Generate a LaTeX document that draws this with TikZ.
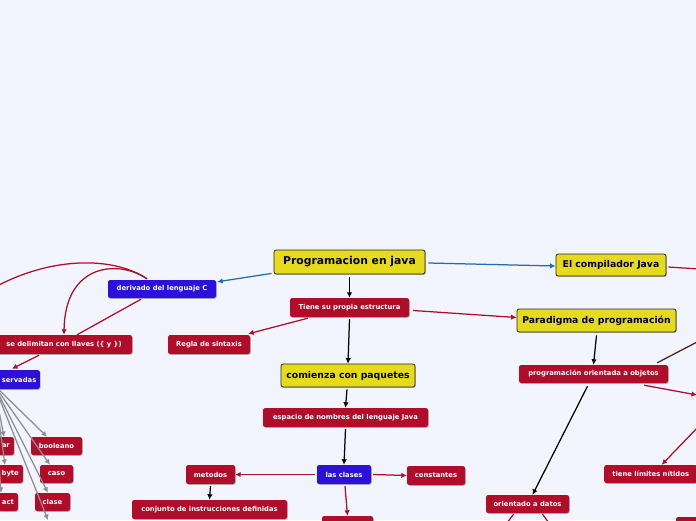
\documentclass[tikz,border=0pt]{standalone}
\usepackage{fontspec}
\setmainfont{DejaVu Sans}
\usetikzlibrary{arrows.meta,shadows,calc}
\definecolor{bg}{HTML}{F2F5FD}
\definecolor{ylw}{HTML}{E5DB1C}
\definecolor{rd}{HTML}{B10D2B}
\definecolor{bl}{HTML}{2D10D9}
\definecolor{lblue}{HTML}{1E6DB5}
\definecolor{gry}{HTML}{8E8E8E}
\definecolor{dbrown}{HTML}{4A1F22}
\tikzset{
  base/.style={rounded corners=2.2pt, align=center, inner sep=0pt,
    drop shadow={shadow xshift=0.8pt, shadow yshift=-0.8pt, fill=black, opacity=0.25}},
  mainbox/.style={base, draw=black!85, line width=0.8pt, fill=ylw, text=black,
    font=\bfseries\fontsize{9.3}{11}\selectfont},
  rootbox/.style={mainbox, font=\bfseries\fontsize{10.8}{12}\selectfont},
  subbox/.style={base, fill=rd, text=white, font=\bfseries\fontsize{6.8}{8}\selectfont, minimum height=19pt},
  bluebox/.style={subbox, fill=bl},
  conn/.style={line width=1.25pt, -{Latex[length=5.5pt,width=5.5pt]}},
  blk/.style={conn, draw=black},
  redc/.style={conn, draw=rd},
  bluec/.style={conn, draw=lblue},
  greyc/.style={conn, draw=gry},
  plainred/.style={line width=1.25pt, draw=rd},
}
\begin{document}
\begin{tikzpicture}[x=1pt,y=-1pt]
\fill[bg] (0,0) rectangle (696,520);
\useasboundingbox (0,0) rectangle (696,520);
\clip (0,0) rectangle (696,520);

% off-canvas points
\coordinate (r1) at (697,395);
\coordinate (r2) at (699,426);
\coordinate (r3) at (699,341);
\coordinate (r4) at (699,269);
\coordinate (l1) at (-20,296);
\coordinate (o1) at (504,527);
\coordinate (o2) at (552,527);
\coordinate (svo) at (-6,385);
\coordinate (tar) at (4,437);
\coordinate (tbyte) at (5,465);
\coordinate (tact) at (1,493);
\coordinate (tbelow) at (48,520);

% nodes
\node[rootbox, minimum width=151pt, minimum height=24pt] (prog) at (349.5,262) {Programacion en java};
\node[mainbox, minimum width=110pt, minimum height=22pt] (comp) at (611,265) {El compilador Java};
\node[mainbox, minimum width=159pt, minimum height=23pt] (parad) at (596.5,320.5) {Paradigma de programación};
\node[mainbox, minimum width=134pt, minimum height=23pt] (com) at (348,375.5) {comienza con paquetes};

\node[bluebox, minimum width=108pt, minimum height=18pt] (deriv) at (162,289) {derivado del lenguaje C};
\node[subbox, minimum width=119pt] (tiene) at (349.5,307.5) {Tiene su propia estructura};
\node[subbox, minimum width=82pt] (regla) at (209,344.5) {Regla de sintaxis};
\node[subbox, minimum width=136pt] (llaves) at (64,344.5) {se delimitan con llaves (\{ y \})};
\node[bluebox, anchor=east, text width=50pt, align=right, inner xsep=3.5pt] (serv) at (40,379.5) {servadas};

\node[subbox, anchor=east, inner xsep=4pt, minimum height=18pt] (ar) at (14,446) {ar};
\node[subbox, minimum width=51pt, minimum height=18pt] (bool) at (56.5,446) {booleano};
\node[subbox, anchor=east, inner xsep=4pt, minimum height=18pt] (byte) at (23,474) {byte};
\node[subbox, minimum width=33pt, minimum height=18pt] (caso) at (56.5,474) {caso};
\node[subbox, anchor=east, inner xsep=4pt, minimum height=18pt] (act) at (18,502) {act};
\node[subbox, minimum width=35pt, minimum height=18pt] (clase) at (52.5,502) {clase};

\node[subbox, minimum width=165pt] (esp) at (345.5,417.5) {espacio de nombres del lenguaje Java};
\node[bluebox, minimum width=54pt] (clases) at (344,474.5) {las clases};
\node[subbox, minimum width=49pt] (met) at (210.5,474.5) {metodos};
\node[subbox, minimum width=58pt] (const) at (436,475.5) {constantes};
\node[subbox, minimum width=155pt] (conj) at (209.5,509.5) {conjunto de instrucciones definidas};
\node[subbox, minimum width=51pt] (bcl) at (347.5,525.5) {};

\node[subbox, minimum width=149pt, minimum height=18pt] (poo) at (593.5,374) {programación orientada a objetos};
\node[subbox, minimum width=83pt, minimum height=18pt] (odat) at (527.5,504) {orientado a datos};
\node[subbox, minimum width=93pt, minimum height=18pt, anchor=west] (lim) at (604,474) {tiene límites nítidos};
\node[subbox, minimum width=44pt] (brn) at (698,526.5) {};

% connectors
\draw[bluec] ($(prog.south west)+(-2,-1)$) -- ($(deriv.north east)+(1,2)$);
\draw[bluec] ($(prog.east)+(3,1)$) -- ($(comp.west)+(0,1)$);
\draw[blk] ($(prog.south)+(0,3)$) -- (tiene.north);
\draw[redc] ($(tiene.south west)+(18,1)$) -- ($(regla.north east)+(-2,-1)$);
\draw[redc] ($(tiene.east)+(4,3)$) -- ($(parad.west)+(0,-3)$);
\draw[blk] ($(tiene.south)+(0,2)$) -- (com.north);
\draw[blk] ($(com.south)+(-1,2)$) -- (esp.north);
\draw[blk] ($(esp.south)+(0,2)$) -- (clases.north);
\draw[redc] ($(clases.west)+(-2,0)$) -- (met.east);
\draw[redc] ($(clases.east)+(2,0)$) -- (const.west);
\draw[redc] ($(clases.south)+(1,2)$) -- (bcl.north);
\draw[blk] ($(met.south)+(0,2)$) -- (conj.north);
\draw[blk] ($(parad.south)+(0,3)$) -- (poo.north);
\draw[blk] ($(poo.south)+(-6,3)$) -- ($(odat.north)+(5,0)$);
\draw[redc] ($(poo.south east)+(-24,2)$) -- (r1);
\draw[redc] (r2) -- ($(lim.north)+(11,0)$);
\draw[line width=1.25pt, draw=dbrown] ($(poo.north east)+(-11,-2)$) -- (r3);
\draw[plainred] ($(comp.east)+(2,2)$) -- (r4);
\draw[plainred] ($(odat.south)+(-14,1)$) -- (o1);
\draw[plainred] ($(odat.south)+(15,1)$) -- (o2);

\draw[redc] ($(deriv.north)+(-15,-1)$) .. controls (120,260) and (65,262) .. (llaves.north);
\draw[plainred] ($(deriv.north)+(-15,-1)$) .. controls (110,254) and (40,257) .. (l1);
\draw[plainred] ($(deriv.south)+(-21,1)$) -- ($(llaves.north)+(13,0)$);
\draw[redc] ($(llaves.south)+(-25,1)$) -- ($(serv.north east)+(-28,-1)$);

\draw[greyc] (svo) -- (tar);
\draw[greyc] (svo) -- (bool);
\draw[greyc] (svo) -- (caso);
\draw[greyc] (svo) -- (clase);
\draw[greyc] (svo) -- (tbyte);
\draw[greyc] (svo) -- (tact);
\draw[greyc] (svo) -- (tbelow);
\end{tikzpicture}
\end{document}
